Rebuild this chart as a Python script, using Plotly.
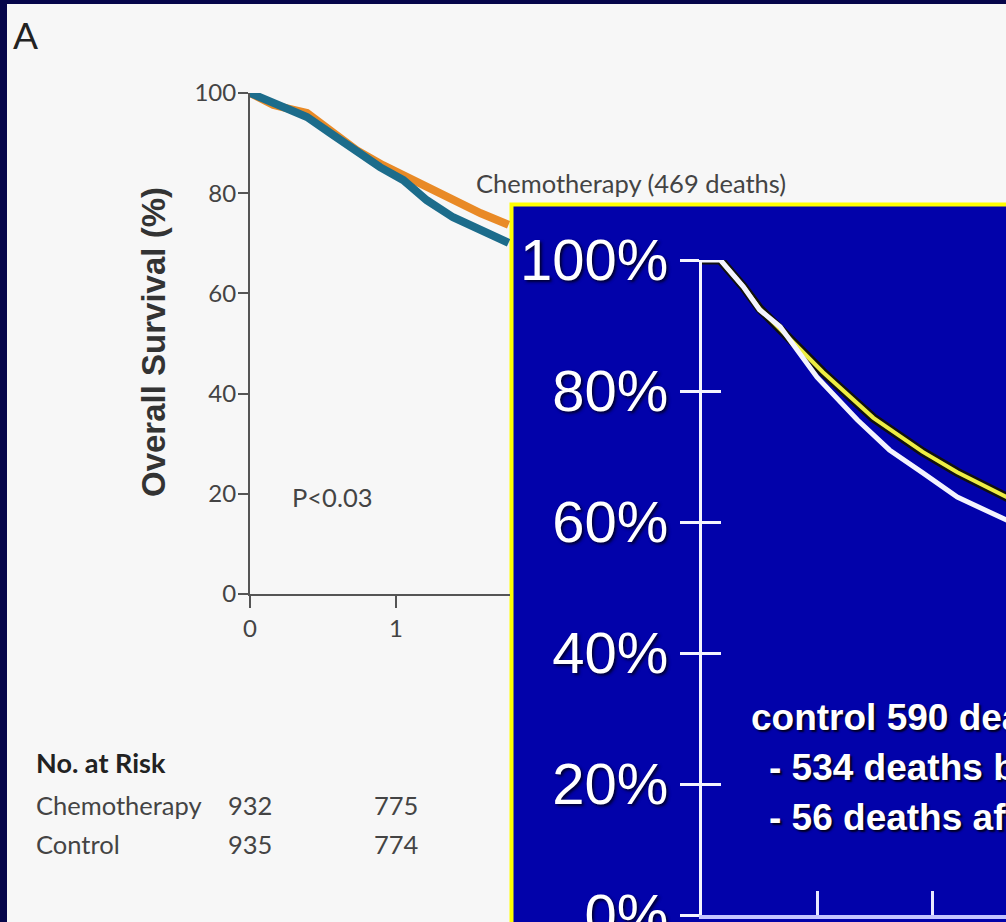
import plotly.graph_objects as go

# ---------------- data ----------------
# Left panel (NEJM figure): years vs overall survival (%)
left_t_chemo = [0, 0.16, 0.39, 0.55, 0.73, 0.91, 1.08, 1.21, 1.39, 1.58, 1.77]
left_s_chemo = [100, 97.6, 96.0, 92.6, 88.6, 85.6, 83.2, 81.2, 78.6, 76.0, 73.7]
left_t_ctrl = [0, 0.16, 0.39, 0.55, 0.73, 0.89, 1.05, 1.21, 1.39, 1.58, 1.77]
left_s_ctrl = [100, 98.0, 95.2, 92.0, 88.2, 85.2, 82.6, 78.6, 75.2, 72.7, 70.1]
left_yticks = [0, 20, 40, 60, 80, 100]
left_xticks = [0, 1]

risk_times = [0, 1]
risk_chemo = [932, 775]
risk_ctrl = [935, 774]

# Inset (slide overlay): years vs survival (%)
inset_t_ctrl = [0, 0.16, 0.36, 0.50, 0.68, 1.00, 1.35, 1.63, 1.92, 2.22, 2.66]
inset_s_ctrl = [100, 100, 95.9, 92.4, 89.8, 82.1, 75.6, 71.0, 67.5, 63.8, 60.2]
inset_t_chemo = [0, 0.16, 0.36, 0.50, 0.62, 1.05, 1.49, 1.92, 2.22, 2.66]
inset_s_chemo = [100, 100, 95.9, 92.6, 90.5, 82.9, 75.9, 70.7, 67.6, 63.7]
inset_yticks = [0, 20, 40, 60, 80, 100]
inset_yticktext = ["0%", "20%", "40%", "60%", "80%", "100%"]
inset_xticks = [1, 2]
inset_lines = ["control 590 deaths", "- 534 deaths before 5 years", "- 56 deaths after 5 years"]

# ---------------- layout helpers ----------------
W, H = 1006, 922
def px(x):
    return x / W
def py(y):
    return 1 - y / H

HUM = "Lato, Liberation Sans, sans-serif"
ARIAL = "Liberation Sans, Arial, sans-serif"
NAVY = "#06064a"
PANEL = "#f7f7f7"
INSET_BG = "#0202aa"

fig = go.Figure()

# left panel curves
fig.add_trace(go.Scatter(x=left_t_chemo, y=left_s_chemo, mode="lines",
                         line=dict(color="#e98a26", width=8), xaxis="x", yaxis="y",
                         showlegend=False, hoverinfo="skip"))
fig.add_trace(go.Scatter(x=left_t_ctrl, y=left_s_ctrl, mode="lines",
                         line=dict(color="#1c6c8b", width=8), xaxis="x", yaxis="y",
                         showlegend=False, hoverinfo="skip"))

# inset curves (chemo yellow with black outline, control white on top)
fig.add_trace(go.Scatter(x=inset_t_chemo, y=inset_s_chemo, mode="lines",
                         line=dict(color="#101010", width=9), xaxis="x2", yaxis="y2",
                         showlegend=False, hoverinfo="skip"))
fig.add_trace(go.Scatter(x=inset_t_chemo, y=inset_s_chemo, mode="lines",
                         line=dict(color="#eeee44", width=4), xaxis="x2", yaxis="y2",
                         showlegend=False, hoverinfo="skip"))
fig.add_trace(go.Scatter(x=inset_t_ctrl, y=inset_s_ctrl, mode="lines",
                         line=dict(color="#f4f4ff", width=5), xaxis="x2", yaxis="y3",
                         showlegend=False, hoverinfo="skip"))

shapes = [
    # light figure panel
    dict(type="rect", xref="paper", yref="paper", x0=px(7), x1=1.02, y0=-0.02, y1=py(4),
         fillcolor=PANEL, line=dict(width=0), layer="below"),
    # blue inset with yellow border
    dict(type="rect", xref="paper", yref="paper", x0=px(511.5), x1=1.02, y0=-0.02, y1=py(204.5),
         fillcolor=INSET_BG, line=dict(color="#ffff00", width=4), layer="below"),
]

annotations = [
    dict(text="A", x=px(11), y=py(34), xanchor="left", yanchor="middle",
         font=dict(family=HUM, size=37, color="#222222")),
    dict(text="<b>Overall Survival (%)</b>", x=px(153), y=py(342), textangle=-90,
         xanchor="center", yanchor="middle",
         font=dict(family=ARIAL, size=33, color="#333333")),
    dict(text="Chemotherapy (469 deaths)", x=px(474), y=py(183), xanchor="left", yanchor="middle",
         font=dict(family=HUM, size=25.5, color="#444444")),
    dict(text="P<0.03", x=px(290), y=py(497), xanchor="left", yanchor="middle",
         font=dict(family=HUM, size=25.5, color="#444444")),
    dict(text="<b>No. at Risk</b>", x=px(34), y=py(762), xanchor="left", yanchor="middle",
         font=dict(family=HUM, size=27, color="#222222")),
    dict(text="Chemotherapy", x=px(34), y=py(805), xanchor="left", yanchor="middle",
         font=dict(family=HUM, size=25.5, color="#444444")),
    dict(text="Control", x=px(34), y=py(844), xanchor="left", yanchor="middle",
         font=dict(family=HUM, size=25.5, color="#444444")),
]
for t, c, k in zip(risk_times, risk_chemo, risk_ctrl):
    annotations.append(dict(text=str(c), x=t, xref="x", y=py(805), yref="paper",
                            xanchor="center", yanchor="middle", showarrow=False,
                            font=dict(family=HUM, size=25.5, color="#444444")))
    annotations.append(dict(text=str(k), x=t, xref="x", y=py(844), yref="paper",
                            xanchor="center", yanchor="middle", showarrow=False,
                            font=dict(family=HUM, size=25.5, color="#444444")))

inset_text_pos = [(749, 717), (767, 767), (767, 817)]
for txt, (xx, yy) in zip(inset_lines, inset_text_pos):
    annotations.append(dict(text="<b>" + txt + "</b>", x=px(xx), y=py(yy), xanchor="left",
                            yanchor="middle",
                            font=dict(family=ARIAL, size=37, color="#ffffff",
                                      shadow="2px 2px 2px #000020")))
for a in annotations:
    a.setdefault("xref", "paper")
    a.setdefault("yref", "paper")
    a.setdefault("showarrow", False)

axis_gray = "#555555"
fig.update_layout(
    width=W, height=H, autosize=False,
    margin=dict(l=0, r=0, t=0, b=0, pad=0, autoexpand=False),
    paper_bgcolor=NAVY, plot_bgcolor="rgba(0,0,0,0)",
    showlegend=False,
    shapes=shapes, annotations=annotations,
    xaxis=dict(domain=[px(250), px(510)], range=[0, 1.78], anchor="y", automargin=False,
               showline=True, linecolor=axis_gray, linewidth=2,
               ticks="outside", ticklen=12, tickwidth=2, tickcolor=axis_gray,
               tickvals=left_xticks, showgrid=False, zeroline=False,
               tickfont=dict(family=HUM, size=24, color="#444444")),
    yaxis=dict(domain=[py(594), py(93)], range=[0, 100], anchor="x", automargin=False,
               showline=True, linecolor=axis_gray, linewidth=2,
               ticks="outside", ticklen=10, tickwidth=2, tickcolor=axis_gray,
               tickvals=left_yticks, showgrid=False, zeroline=False,
               ticklabelstandoff=-3,
               tickfont=dict(family=HUM, size=24, color="#444444")),
    xaxis2=dict(domain=[px(702), 1], range=[0, (1006 - 702) / 115], anchor="y2", automargin=False,
                showline=True, linecolor="#c4c4ff", linewidth=4,
                ticks="inside", ticklen=24, tickwidth=3, tickcolor="#e8e8ff",
                tickvals=inset_xticks, showticklabels=False,
                showgrid=False, zeroline=False),
    yaxis2=dict(domain=[py(915), py(260)], range=[0, 100], anchor="x2", automargin=False,
                showline=True, linecolor="#f4f4ff", linewidth=3,
                ticks="outside", ticklen=19, tickwidth=3, tickcolor="#f4f4ff",
                tickvals=inset_yticks, ticktext=inset_yticktext,
                showgrid=False, zeroline=False, ticklabeloverflow="allow",
                tickfont=dict(family=ARIAL, size=58, color="#ffffff",
                              shadow="2px 2px 3px #000030")),
    yaxis3=dict(overlaying="y2", anchor="x2", range=[0, 100], automargin=False,
                ticks="inside", ticklen=19, tickwidth=3, tickcolor="#f4f4ff",
                tickvals=inset_yticks, showticklabels=False,
                showgrid=False, zeroline=False, showline=False),
)

fig.write_html(
    "out.html",
    config=dict(displayModeBar=False),
    post_script="document.body.style.margin='0';document.body.style.overflow='hidden';",
)
